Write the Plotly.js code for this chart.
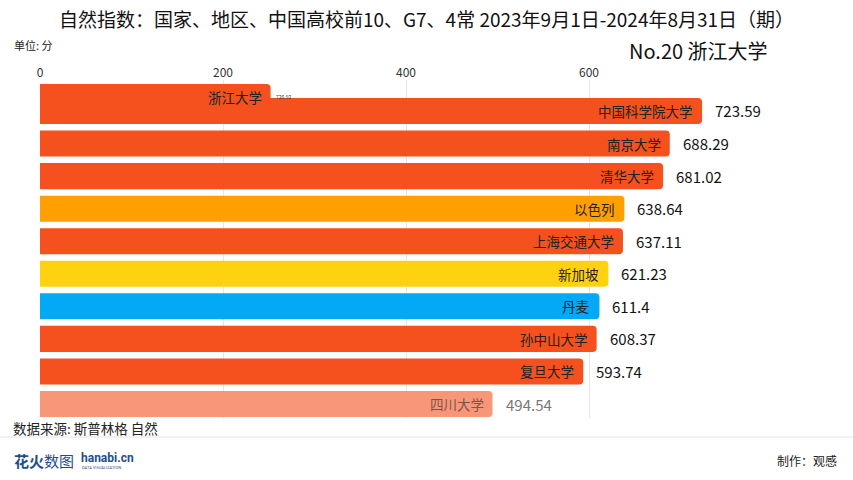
<!DOCTYPE html>
<html>
<head>
<meta charset="utf-8">
<script src="https://cdn.plot.ly/plotly-3.0.1.min.js"></script>
<style>html,body{margin:0;padding:0;background:#fff;}#chart{width:853px;height:480px;}</style>
</head>
<body>
<div id="chart"></div>
<script>
// ranked rows (top to bottom)
var names = ['中国科学院大学','南京大学','清华大学','以色列','上海交通大学','新加坡','丹麦','孙中山大学','复旦大学','四川大学'];
var values = [723.59, 688.29, 681.02, 638.64, 637.11, 621.23, 611.4, 608.37, 593.74, 494.54];
var colors = ['#F4511E','#F4511E','#F4511E','#FFA000','#F4511E','#FFD20F','#03A9F4','#F4511E','#F4511E','#F89678'];
// entering bar (animating in this frame)
var enterName = '浙江大学';
var enterValue = 252;
var enterLabel = '726.92';
var tickVals = [0, 200, 400, 600];

var FONT = '"Noto Sans CJK SC", "Noto Sans", sans-serif';
var ranks = names.map(function(_, i){ return i; });
var enterPos = -0.43;

var bars = {
  type: 'bar', orientation: 'h',
  x: values, y: ranks,
  marker: {color: colors, cornerradius: 4},
  width: 0.8, hoverinfo: 'skip'
};
var enterBar = {
  type: 'bar', orientation: 'h',
  x: [enterValue], y: [enterPos],
  marker: {color: '#F4511E', cornerradius: 4},
  width: 0.8, hoverinfo: 'skip'
};

var ann = [];
names.forEach(function(n, i){
  var faded = (i === names.length - 1);
  ann.push({x: values[i], y: ranks[i], xref: 'x', yref: 'y', text: n, showarrow: false,
    xanchor: 'right', xshift: -7, font: {family: FONT, size: 13.5, color: faded ? '#7a5548' : '#222'}});
  ann.push({x: values[i], y: ranks[i], xref: 'x', yref: 'y', text: String(values[i]), showarrow: false,
    xanchor: 'left', xshift: 11, font: {family: FONT, size: 15, color: faded ? '#777' : '#111'}});
});
ann.push({x: enterValue, y: enterPos, xref: 'x', yref: 'y', text: enterName, showarrow: false,
  xanchor: 'right', xshift: -7, font: {family: FONT, size: 13.5, color: '#222'}});
ann.push({x: enterValue, y: enterPos, xref: 'x', yref: 'y', text: enterLabel, showarrow: false,
  xanchor: 'left', xshift: 3, font: {family: FONT, size: 5, color: '#333'}});

var W = 750, H = 338, L = 40, T = 80;
function px(x){ return (x - L) / W; }
function py(y){ return (T + H - y) / H; }

ann.push({xref:'paper', yref:'paper', x: px(12), y: py(45), xanchor:'left', yanchor:'middle', showarrow:false,
  text:'单位: 分', font:{family:FONT, size:11, color:'#222'}});
ann.push({xref:'paper', yref:'paper', x: px(770), y: py(51), xanchor:'right', yanchor:'middle', showarrow:false,
  text:'No.20 浙江大学', font:{family:FONT, size:20, color:'#111'}});
ann.push({xref:'paper', yref:'paper', x: px(11), y: py(428), xanchor:'left', yanchor:'middle', showarrow:false,
  text:'数据来源: 斯普林格 自然', font:{family:FONT, size:13.5, color:'#222'}});
ann.push({xref:'paper', yref:'paper', x: px(12), y: py(460), xanchor:'left', yanchor:'middle', showarrow:false,
  text:'<b>花火</b>数图', font:{family:FONT, size:15, color:'#1F4E8C'}});
ann.push({xref:'paper', yref:'paper', x: px(79), y: py(458), xanchor:'left', yanchor:'middle', showarrow:false,
  text:'<b>hanabi.cn</b>', font:{family:'Roboto, sans-serif', size:12, color:'#1F4E8C'}});
ann.push({xref:'paper', yref:'paper', x: px(80), y: py(467), xanchor:'left', yanchor:'middle', showarrow:false,
  text:'DATA VISUALIZATION', font:{family:'Roboto, sans-serif', size:4, color:'#1F4E8C'}});
ann.push({xref:'paper', yref:'paper', x: px(839), y: py(460), xanchor:'right', yanchor:'middle', showarrow:false,
  text:'制作：观感', font:{family:FONT, size:12, color:'#222'}});

var layout = {
  width: 853, height: 480,
  margin: {l: L, r: 853 - L - W, t: T, b: 480 - T - H, pad: 0},
  paper_bgcolor: '#fff', plot_bgcolor: '#fff',
  showlegend: false, barmode: 'overlay',
  title: {text: '自然指数：国家、地区、中国高校前10、G7、4常 2023年9月1日-2024年8月31日（期）',
    font: {family: FONT, size: 19, color: '#111'}, xref: 'container', yref: 'container',
    x: 0.5, xanchor: 'center', y: 1 - 20/480, yanchor: 'middle'},
  xaxis: {side: 'top', range: [0, W / 0.915], tickvals: tickVals, ticktext: tickVals.map(String),
    showgrid: true, gridcolor: '#e6e6e6', gridwidth: 1, zeroline: false, showline: false, ticks: '',
    tickfont: {family: FONT, size: 12, color: '#333'}, fixedrange: true},
  yaxis: {range: [9.43, -0.952], showticklabels: false, showgrid: false, zeroline: false, showline: false, fixedrange: true},
  annotations: ann,
  shapes: [{type:'line', xref:'paper', yref:'paper', x0: px(0), x1: px(853), y0: py(437), y1: py(437),
    line:{color:'#e3e3e3', width:1}}]
};

Plotly.newPlot('chart', [bars, enterBar], layout, {staticPlot: true, displayModeBar: false});
</script>
</body>
</html>
